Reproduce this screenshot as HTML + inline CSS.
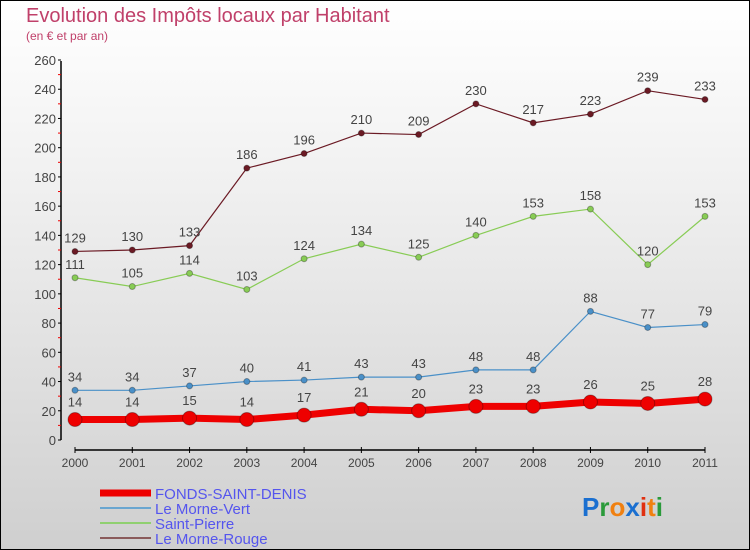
<!DOCTYPE html>
<html><head><meta charset="utf-8"><style>
body{margin:0}
#c{width:750px;height:550px;position:relative;box-sizing:border-box;border:1px solid #000;background:linear-gradient(#fff,#f2f2f2 30%,#cfcfcf);font-family:"Liberation Sans",sans-serif;overflow:hidden}
</style></head><body>
<div id="c">
<svg id="s" width="750" height="550" style="position:absolute;left:-1px;top:-1px">
<text x="26" y="22" font-size="20" fill="#c0406a">Evolution des Impôts locaux par Habitant</text>
<text x="26" y="40" font-size="12" fill="#c0406a">(en € et par an)</text>
</svg>
</div>
<script>
const years=["2000","2001","2002","2003","2004","2005","2006","2007","2008","2009","2010","2011"];
const fonds=[14,14,15,14,17,21,20,23,23,26,25,28];
const morneVert=[34,34,37,40,41,43,43,48,48,88,77,79];
const stPierre=[111,105,114,103,124,134,125,140,153,158,120,153];
const morneRouge=[129,130,133,186,196,210,209,230,217,223,239,233];
const yTicks=[0,20,40,60,80,100,120,140,160,180,200,220,240,260];
const svg=document.getElementById('s');const NS='http://www.w3.org/2000/svg';
function y(v){return 440-v*380/260;}
function x(i){return 75+i*630/11;}
function mk(t,a,p){const e=document.createElementNS(NS,t);for(const k in a)e.setAttribute(k,a[k]);(p||svg).appendChild(e);return e;}
const ax=mk('g',{});
mk('line',{x1:61,y1:61,x2:61,y2:440,stroke:'#000','stroke-width':1.5},ax);
yTicks.forEach((v,i)=>{mk('line',{x1:58,x2:61,y1:y(v),y2:y(v),stroke:'#000'},ax);
 if(i<yTicks.length-1)mk('line',{x1:58,x2:61,y1:y(v+10),y2:y(v+10),stroke:'#e00'},ax);
 const t=mk('text',{x:56,y:y(v)+5,'text-anchor':'end','font-size':13,fill:'#444'},ax);t.textContent=v;});
const xa=mk('g',{});
mk('line',{x1:75,y1:450,x2:705,y2:450,stroke:'#000','stroke-width':1.5},xa);
years.forEach((yr,i)=>{mk('line',{x1:x(i),x2:x(i),y1:447,y2:453,stroke:'#000'},xa);
 const t=mk('text',{x:x(i),y:467,'text-anchor':'middle','font-size':12,fill:'#444'},xa);t.textContent=yr;});
function series(d,col,w,r,name){const g=mk('g',{});
 mk('polyline',{points:d.map((v,i)=>x(i)+','+y(v)).join(' '),fill:'none',stroke:col,'stroke-width':w},g);
 d.forEach((v,i)=>{const c=mk('circle',{cx:x(i),cy:y(v),r:r,fill:col,stroke:'rgba(0,0,0,0.3)'},g);
  const t=mk('text',{x:x(i),y:y(v)-(r+6),'text-anchor':'middle','font-size':13,fill:'#444'},g);t.textContent=v;});}
series(morneRouge,'#6b1a24',1.2,3,'morne-rouge-series');
series(stPierre,'#88cc55',1.2,3,'saint-pierre-series');
series(morneVert,'#4a90c8',1.2,3,'morne-vert-series');
series(fonds,'#ee0000',7,7,'fonds-saint-denis-series');
const lg=[["FONDS-SAINT-DENIS","#ee0000",7],["Le Morne-Vert","#6aa6d0",2],["Saint-Pierre","#90d070",2],["Le Morne-Rouge","#8a5a5a",2]];
lg.forEach((l,i)=>{const g=mk('g',{});
 const yy=493+i*15;mk('line',{x1:100,x2:151,y1:yy,y2:yy,stroke:l[1],'stroke-width':l[2]},g);
 const t=mk('text',{x:155,y:yy+6,'font-size':15,fill:'#5555ee'},g);t.textContent=l[0];});
const lo=mk('text',{x:582,y:516,'font-size':26,'font-weight':'bold'});
[["P","#1a6fd0"],["r","#2a9a3a"],["o","#f08010"],["x","#1a6fd0"],["i","#e03010"],["t","#f08010"],["i","#2a9a3a"]].forEach(p=>{const s=mk('tspan',{fill:p[1]},lo);s.textContent=p[0];});
</script>
</body></html>
